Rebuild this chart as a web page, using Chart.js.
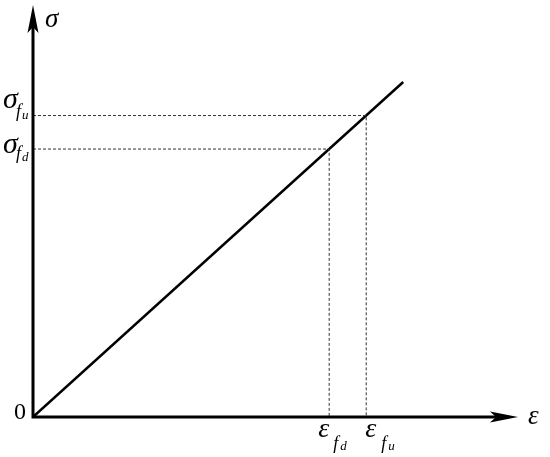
<!DOCTYPE html>
<html>
<head>
<meta charset="utf-8">
<script src="https://cdn.jsdelivr.net/npm/chart.js@4/dist/chart.umd.min.js"></script>
<style>
    html, body { margin: 0; padding: 0; background: #fff; }
</style>
</head>
<body>
<canvas id="chart" width="550" height="457"></canvas>
<script>
// strain / stress of the linear elastic line (normalised units)
const strainLine = [0, 1.0];
const stressLine = [0, 1.0];
// design (fd) and ultimate (fu) points on the line
const strainMarks = [0.8, 0.9];
const stressMarks = [0.8, 0.9];
const markNames = ['d', 'u'];
// axis extents (arrow tips)
const xAxisMax = 1.31;
const yAxisMax = 1.23;

const serif = '"Liberation Serif", "DejaVu Serif", serif';

function toPoints(xs, ys) {
    return xs.map((x, i) => ({ x: x, y: ys[i] }));
}

const datasets = [];
// dashed guides: horizontal from y axis, vertical down to x axis
for (let i = 0; i < strainMarks.length; i++) {
    datasets.push({
        data: toPoints([0, strainMarks[i], strainMarks[i]], [stressMarks[i], stressMarks[i], 0]),
        borderColor: '#333',
        borderWidth: 1,
        borderDash: [3, 2],
        pointRadius: 0,
        showLine: true,
        tension: 0
    });
}
datasets.push({
    data: toPoints(strainLine, stressLine),
    borderColor: '#000',
    borderWidth: 2.5,
    pointRadius: 0,
    showLine: true,
    tension: 0
});

function text(ctx, str, x, y, font) {
    ctx.font = font;
    ctx.fillText(str, x, y);
}

// glyph + f + d/u subscript; offsets are [dx, dy] pairs for each part
function subLabel(ctx, main, size, sub, x, y, o) {
    text(ctx, main, x + o[0], y + o[1], 'italic ' + size + 'px ' + serif);
    text(ctx, 'f', x + o[2], y + o[3], 'italic 18px ' + serif);
    text(ctx, sub, x + o[4], y + o[5], 'italic 13px ' + serif);
}

// label offsets relative to the marked point (fd, fu)
const sigmaOffsets = [[3, 4, 16, 10, 22, 12], [3, -8, 16, 1, 22, 3]];
const epsOffsets = [[-11, 20, 4, 32, 11, 33], [-1, 20, 15, 32, 22, 33]];

const axesPlugin = {
    id: 'axesArrows',
    afterDatasetsDraw: function (chart) {
        const ctx = chart.ctx;
        const xs = chart.scales.x, ys = chart.scales.y;
        const x0 = xs.getPixelForValue(0), y0 = ys.getPixelForValue(0);
        const xTip = xs.getPixelForValue(xAxisMax), yTip = ys.getPixelForValue(yAxisMax);
        ctx.save();
        ctx.strokeStyle = '#000';
        ctx.fillStyle = '#000';
        ctx.lineWidth = 3;
        ctx.beginPath();
        ctx.moveTo(x0, y0);
        ctx.lineTo(x0, yTip + 20);
        ctx.moveTo(x0 - 1.5, y0);
        ctx.lineTo(xTip - 20, y0);
        ctx.stroke();
        // arrow heads
        ctx.beginPath();
        ctx.moveTo(x0, yTip);
        ctx.lineTo(x0 - 5.5, yTip + 28);
        ctx.lineTo(x0, yTip + 22);
        ctx.lineTo(x0 + 5.5, yTip + 28);
        ctx.closePath();
        ctx.fill();
        ctx.beginPath();
        ctx.moveTo(xTip, y0);
        ctx.lineTo(xTip - 28, y0 - 5.5);
        ctx.lineTo(xTip - 22, y0);
        ctx.lineTo(xTip - 28, y0 + 5.5);
        ctx.closePath();
        ctx.fill();

        // axis names
        ctx.textBaseline = 'alphabetic';
        ctx.textAlign = 'left';
        text(ctx, '\u03c3', x0 + 12, yTip + 22, 'italic 27px ' + serif);
        text(ctx, '\u03b5', xTip + 10, y0 + 7, 'italic 27px ' + serif);
        text(ctx, '0', x0 - 19, y0 + 2, '24px ' + serif);

        // point labels
        for (let i = 0; i < strainMarks.length; i++) {
            const px = xs.getPixelForValue(strainMarks[i]);
            const py = ys.getPixelForValue(stressMarks[i]);
            subLabel(ctx, '\u03c3', 30, markNames[i], 0, py, sigmaOffsets[i]);
            subLabel(ctx, '\u03b5', 28, markNames[i], px, y0, epsOffsets[i]);
        }
        ctx.restore();
    }
};

new Chart(document.getElementById('chart'), {
    type: 'scatter',
    data: { datasets: datasets },
    options: {
        responsive: false,
        animation: false,
        layout: { padding: { left: 33, right: 32, top: 5, bottom: 40 } },
        plugins: { legend: { display: false }, tooltip: { enabled: false } },
        scales: {
            x: { type: 'linear', min: 0, max: xAxisMax, display: false },
            y: { type: 'linear', min: 0, max: yAxisMax, display: false }
        }
    },
    plugins: [axesPlugin]
});
</script>
</body>
</html>
